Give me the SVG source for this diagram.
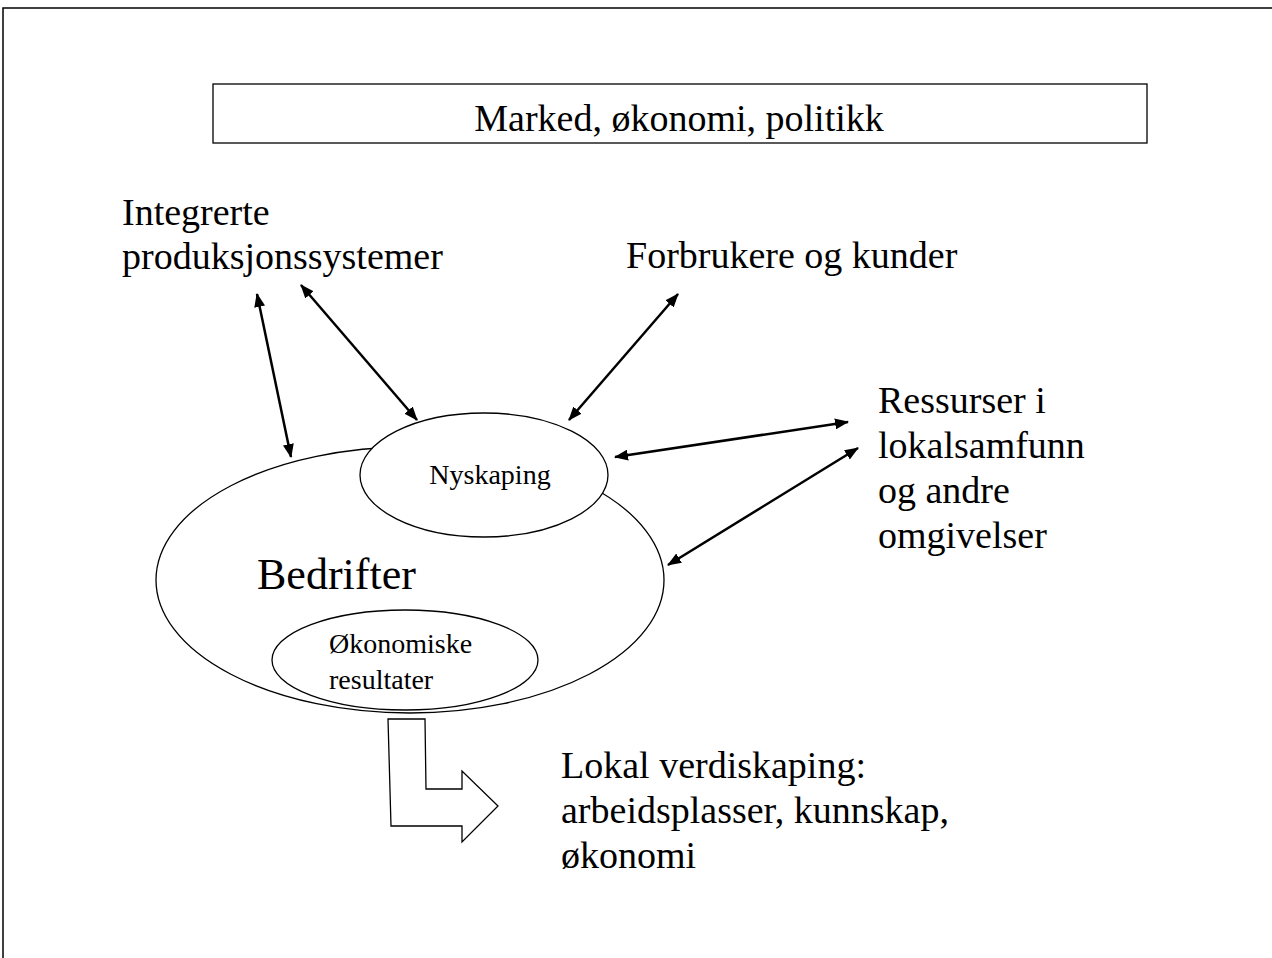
<svg xmlns="http://www.w3.org/2000/svg" width="1272" height="958" viewBox="0 0 1272 958">
  <defs>
    <marker id="head" viewBox="0 0 14 11" refX="13" refY="5.5" markerWidth="14" markerHeight="11" markerUnits="userSpaceOnUse" orient="auto-start-reverse">
      <path d="M0,0 L14,5.5 L0,11 Z" fill="#000"/>
    </marker>
  </defs>
  <style>
    text { font-family: "Liberation Serif", "Times New Roman", serif; fill: #000; }
    .big { font-size: 38px; }
    .small { font-size: 28px; }
    .shape { fill: #fff; stroke: #000; stroke-width: 1.3; }
    .link { stroke: #000; stroke-width: 2.5; fill: none; marker-start: url(#head); marker-end: url(#head); }
  </style>
  <rect width="1272" height="958" fill="#fff"/>
  <!-- slide frame -->
  <path d="M3,958 V8 H1272" fill="none" stroke="#000" stroke-width="1.5"/>

  <g id="marked">
    <rect class="shape" x="213" y="84" width="934" height="59"/>
    <text class="big" x="679" y="131" text-anchor="middle">Marked, økonomi, politikk</text>
  </g>

  <g id="produksjon">
    <text class="big" x="122" y="225">Integrerte</text>
    <text class="big" x="122" y="269">produksjonssystemer</text>
  </g>

  <g id="forbrukere">
    <text class="big" x="626" y="268">Forbrukere og kunder</text>
  </g>

  <g id="ressurser">
    <text class="big" x="878" y="413">Ressurser i</text>
    <text class="big" x="878" y="458">lokalsamfunn</text>
    <text class="big" x="878" y="503">og andre</text>
    <text class="big" x="878" y="548">omgivelser</text>
  </g>

  <g id="bedrifter">
    <ellipse class="shape" cx="410" cy="580" rx="254" ry="133"/>
    <text x="257" y="589" font-size="44">Bedrifter</text>
  </g>

  <g id="nyskaping">
    <ellipse class="shape" cx="484" cy="475" rx="124" ry="62"/>
    <text class="small" x="490" y="484" text-anchor="middle">Nyskaping</text>
  </g>

  <g id="okonomiske">
    <ellipse class="shape" cx="405" cy="660" rx="133" ry="50"/>
    <text class="small" x="329" y="653">Økonomiske</text>
    <text class="small" x="329" y="689">resultater</text>
  </g>

  <g id="verdiskaping">
    <polygon class="shape" points="388,719 425,719 426,789 462,789 462,771 498,806 462,842 462,826 391,826"/>
    <text class="big" x="561" y="778">Lokal verdiskaping:</text>
    <text class="big" x="561" y="823">arbeidsplasser, kunnskap,</text>
    <text class="big" x="561" y="868">økonomi</text>
  </g>

  <g id="connectors">
    <line class="link" x1="257" y1="294" x2="291" y2="457"/>
    <line class="link" x1="301" y1="285" x2="417" y2="420"/>
    <line class="link" x1="678" y1="294" x2="569" y2="420"/>
    <line class="link" x1="615" y1="457" x2="848" y2="422"/>
    <line class="link" x1="668" y1="565" x2="858" y2="448"/>
  </g>
</svg>
